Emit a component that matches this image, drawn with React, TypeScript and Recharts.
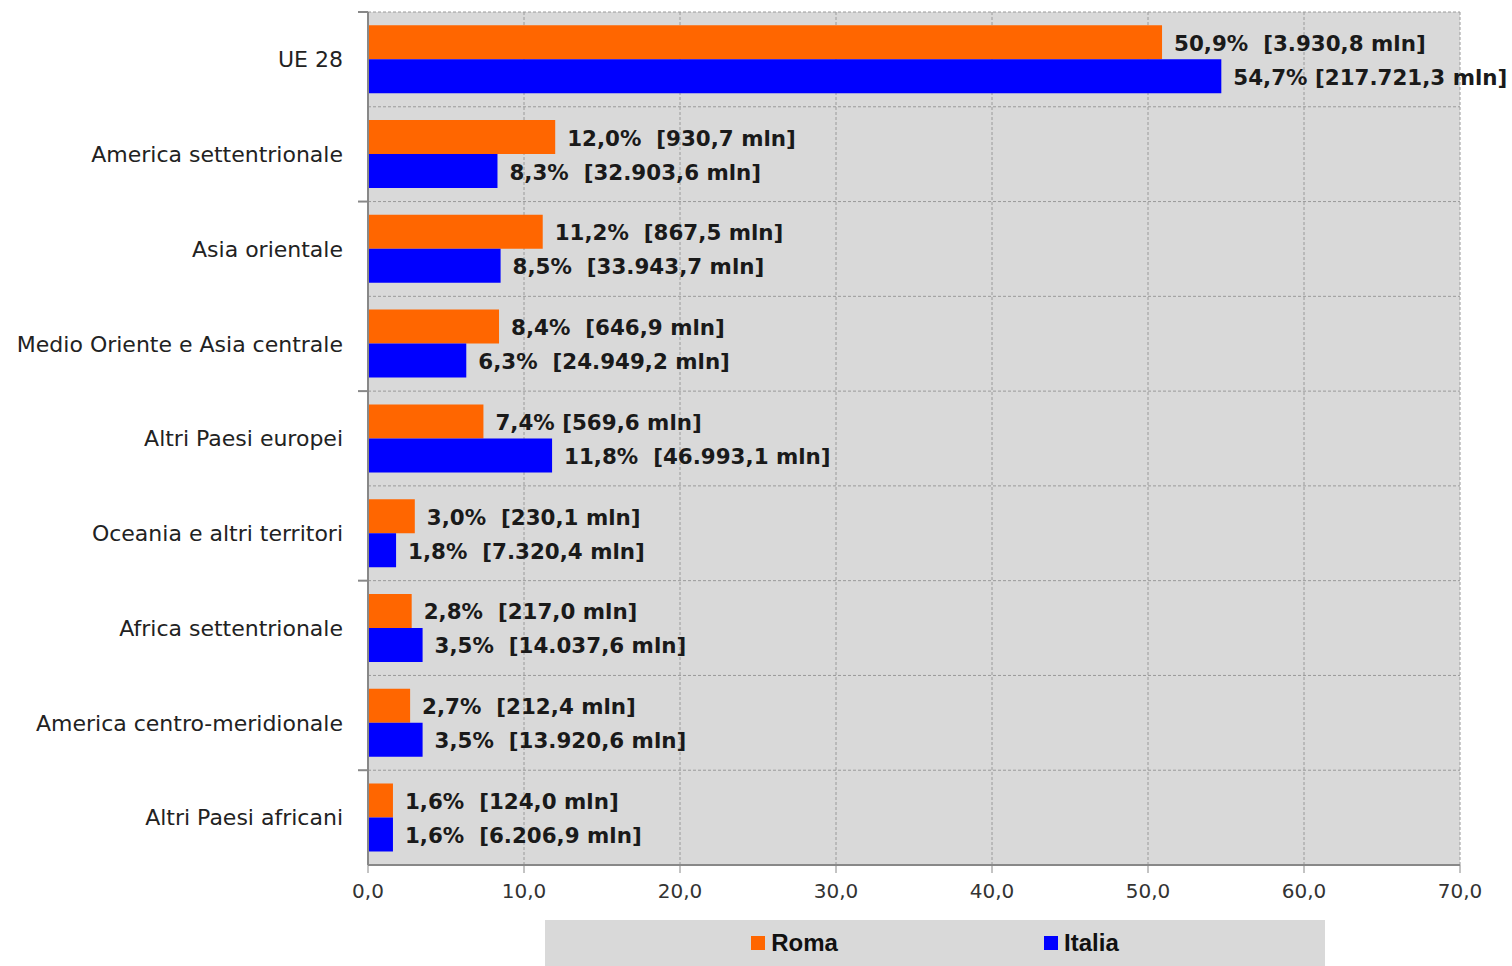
import React from 'react';
import { BarChart, Bar, XAxis, YAxis, CartesianGrid, LabelList, Legend } from 'recharts';

const categories = [
  'UE 28',
  'America settentrionale',
  'Asia orientale',
  'Medio Oriente e Asia centrale',
  'Altri Paesi europei',
  'Oceania e altri territori',
  'Africa settentrionale',
  'America centro-meridionale',
  'Altri Paesi africani',
];

const romaValues = [50.9, 12.0, 11.2, 8.4, 7.4, 3.0, 2.8, 2.7, 1.6];
const italiaValues = [54.7, 8.3, 8.5, 6.3, 11.8, 1.8, 3.5, 3.5, 1.6];

const romaLabels = [
  '50,9%  [3.930,8 mln]',
  '12,0%  [930,7 mln]',
  '11,2%  [867,5 mln]',
  '8,4%  [646,9 mln]',
  '7,4% [569,6 mln]',
  '3,0%  [230,1 mln]',
  '2,8%  [217,0 mln]',
  '2,7%  [212,4 mln]',
  '1,6%  [124,0 mln]',
];

const italiaLabels = [
  '54,7% [217.721,3 mln]',
  '8,3%  [32.903,6 mln]',
  '8,5%  [33.943,7 mln]',
  '6,3%  [24.949,2 mln]',
  '11,8%  [46.993,1 mln]',
  '1,8%  [7.320,4 mln]',
  '3,5%  [14.037,6 mln]',
  '3,5%  [13.920,6 mln]',
  '1,6%  [6.206,9 mln]',
];

const xTicks = [0, 10, 20, 30, 40, 50, 60, 70];

const seriesNames = ['Roma', 'Italia'];
const seriesColors = ['#ff6600', '#0000ff'];

const data = categories.map((name, i) => ({
  name,
  roma: romaValues[i],
  italia: italiaValues[i],
  romaLabel: romaLabels[i],
  italiaLabel: italiaLabels[i],
}));

const renderBarLabel = (props: any) => {
  const { x, y, width, height, value } = props;
  return (
    <text
      x={Number(x) + Number(width) + 12}
      y={Number(y) + Number(height) / 2 + 1}
      dominantBaseline="central"
      fontFamily="DejaVu Sans"
      fontWeight="bold"
      fontSize={21.4}
      fill="#1a1a1a"
      style={{ whiteSpace: 'pre' }}
    >
      {value}
    </text>
  );
};

const horizontalLine = (props: any) => {
  const { x1, x2, y1, y2, index } = props;
  return (
    <g key={`hl-${index}`}>
      <line x1={x1} x2={x2} y1={y1} y2={y2} stroke="#9a9a9a" strokeWidth={1} strokeDasharray="3 2" />
      {index % 2 === 0 ? (
        <line x1={x1 - 10} x2={x1} y1={y1} y2={y2} stroke="#888" strokeWidth={2} />
      ) : null}
    </g>
  );
};

const hCoords = (args: any) => {
  const off = args && args.offset;
  const top = off ? off.top : 12;
  const h = off ? off.height : 853;
  const n = categories.length;
  return Array.from({ length: n + 1 }, (_, i) => top + (i * h) / n);
};

const renderLegend = () => (
  <div
    style={{
      width: '100%',
      height: '100%',
      background: '#d9d9d9',
      display: 'flex',
      justifyContent: 'space-evenly',
      alignItems: 'center',
    }}
  >
    {seriesNames.map((n, i) => (
      <div key={n} style={{ display: 'flex', alignItems: 'center' }}>
        <span style={{ display: 'inline-block', width: 14, height: 14, background: seriesColors[i], marginRight: 6 }} />
        <span
          style={{
            fontFamily: '"Liberation Sans Narrow", "Liberation Sans", sans-serif',
            fontWeight: 'bold',
            fontSize: 24,
            color: '#111',
          }}
        >
          {n}
        </span>
      </div>
    ))}
  </div>
);

export default function App() {
  return (
    <div style={{ position: 'absolute', left: 0, top: 0, width: 1512, height: 966, background: '#fff' }}>
      <BarChart
        width={1512}
        height={966}
        data={data}
        layout="vertical"
        margin={{ top: 12, right: 52, left: 0, bottom: 0 }}
        barCategoryGap="14%"
        barGap={0}
      >
        <CartesianGrid
          fill="#d9d9d9"
          stroke="#9a9a9a"
          strokeDasharray="3 2"
          horizontal={horizontalLine}
          horizontalCoordinatesGenerator={hCoords}
        />
        <XAxis
          type="number"
          domain={[0, 70]}
          ticks={xTicks}
          interval={0}
          height={101}
          tickFormatter={(v: number) => v.toFixed(1).replace('.', ',')}
          tick={{ fontFamily: 'DejaVu Sans', fontSize: 20, fill: '#333' }}
          tickSize={8}
          tickMargin={11}
          tickLine={{ stroke: '#888', strokeWidth: 1 }}
          axisLine={{ stroke: '#888', strokeWidth: 2 }}
        />
        <YAxis
          type="category"
          dataKey="name"
          width={368}
          interval={0}
          tickLine={false}
          tickSize={0}
          tickMargin={25}
          tick={{ fontFamily: 'DejaVu Sans', fontSize: 22, fill: '#222' }}
          axisLine={{ stroke: '#888', strokeWidth: 2 }}
        />
        <Legend
          layout="horizontal"
          verticalAlign="middle"
          align="center"
          content={renderLegend}
          wrapperStyle={{ left: 545, top: 920, width: 780, height: 46 }}
        />
        <Bar dataKey="roma" name="Roma" fill="#ff6600" isAnimationActive={false}>
          <LabelList dataKey="romaLabel" content={renderBarLabel} />
        </Bar>
        <Bar dataKey="italia" name="Italia" fill="#0000ff" isAnimationActive={false}>
          <LabelList dataKey="italiaLabel" content={renderBarLabel} />
        </Bar>
      </BarChart>
    </div>
  );
}
